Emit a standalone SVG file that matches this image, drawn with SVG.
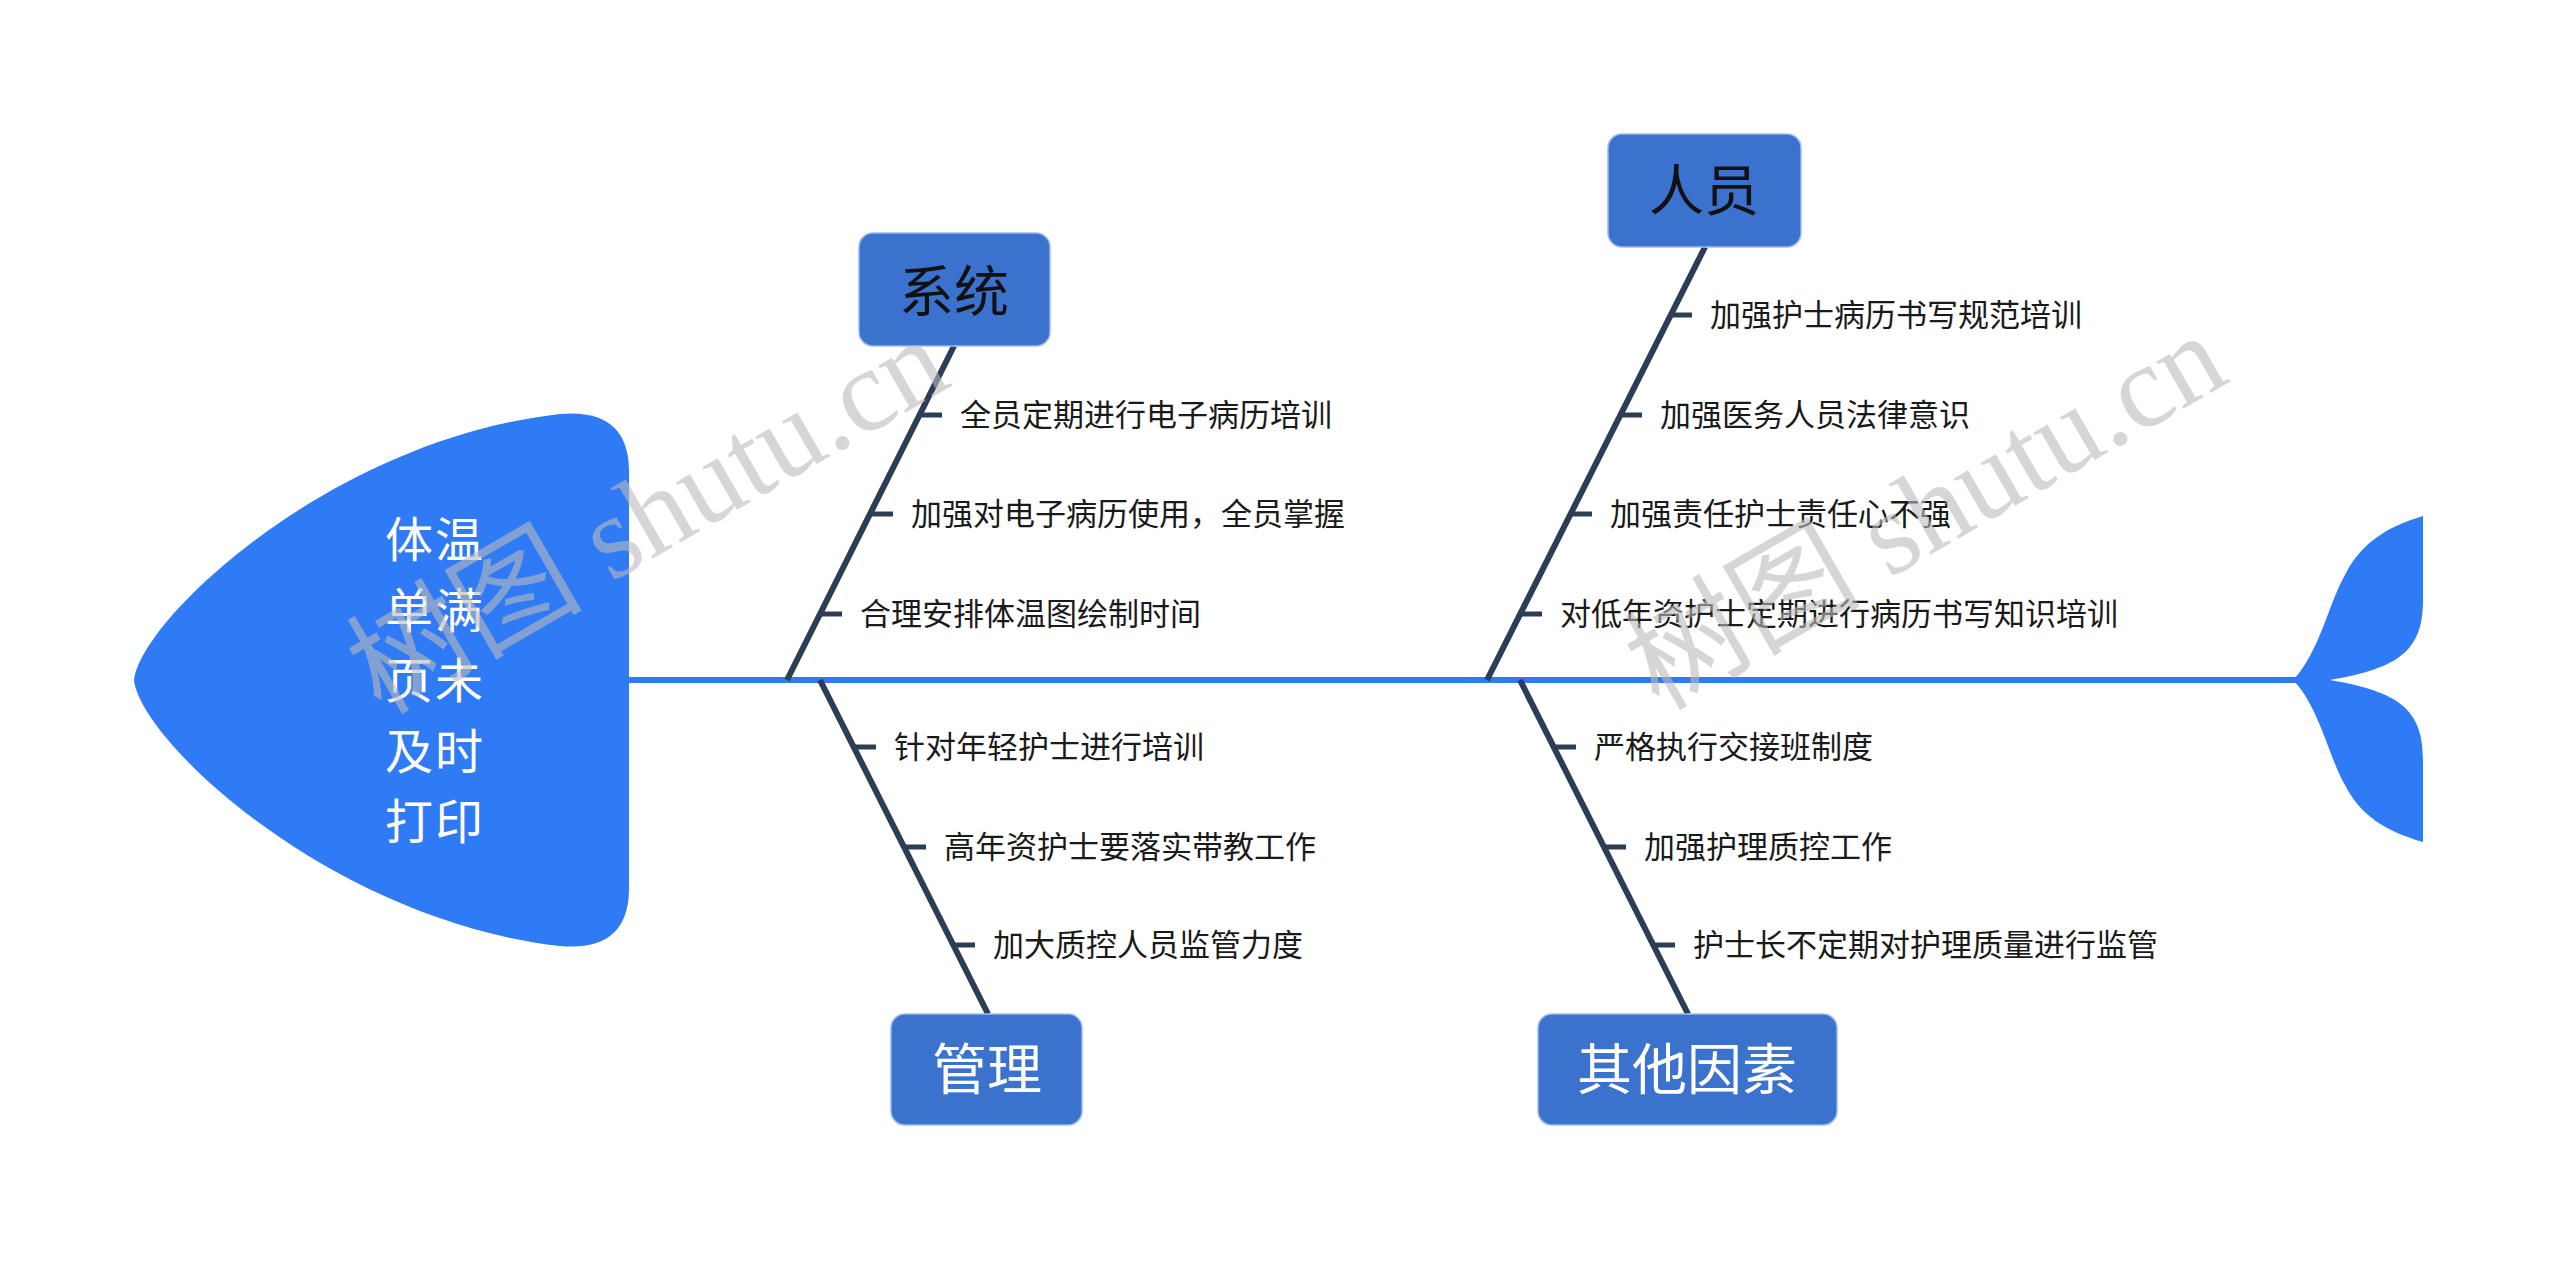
<svg xmlns="http://www.w3.org/2000/svg" width="2560" height="1261" viewBox="0 0 2560 1261">
<style>
.fish{fill:#2F7BF6}
.spine{stroke:#2F7BF4;stroke-width:6;fill:none}
.bone{stroke:#2C3E55;stroke-width:6;fill:none;stroke-linecap:butt}
.tick{stroke:#2C3E55;stroke-width:5;fill:none}
.box{fill:#3A72CE;stroke:#9BBBEE;stroke-width:1.5}
.lbl{font-family:"Noto Sans CJK SC","Noto Sans",sans-serif;font-size:55px;text-anchor:middle}
.dark{fill:#111111}
.light{fill:#FFFFFF}
.item{font-family:"Noto Sans CJK SC","Noto Sans",sans-serif;font-size:31px;fill:#1A1A1A}
.head{font-family:"Noto Sans CJK SC","Noto Sans",sans-serif;font-size:48px;letter-spacing:2px;fill:#FFFFFF;text-anchor:middle}
.wm{font-family:"Liberation Serif","Noto Sans CJK SC",serif;font-size:118px;fill:#BBBBBB;fill-opacity:0.6;text-anchor:middle}
</style>
<rect width="2560" height="1261" fill="#FFFFFF"/>
<g id="connectors">
<line class="spine" x1="625" y1="680" x2="2300" y2="680"/>
<line class="bone" x1="954" y1="346" x2="787" y2="680"/>
<line class="bone" x1="820" y1="680" x2="988" y2="1014"/>
<line class="bone" x1="1705" y1="247" x2="1487" y2="680"/>
<line class="bone" x1="1520" y1="680" x2="1688" y2="1014"/>
<line class="tick" x1="919" y1="415" x2="942" y2="415"/>
<line class="tick" x1="869" y1="514" x2="893" y2="514"/>
<line class="tick" x1="819" y1="614" x2="842" y2="614"/>
<line class="tick" x1="1670" y1="315" x2="1692" y2="315"/>
<line class="tick" x1="1620" y1="415" x2="1642" y2="415"/>
<line class="tick" x1="1570" y1="514" x2="1592" y2="514"/>
<line class="tick" x1="1519" y1="614" x2="1542" y2="614"/>
<line class="tick" x1="854" y1="747" x2="876" y2="747"/>
<line class="tick" x1="904" y1="847" x2="926" y2="847"/>
<line class="tick" x1="953" y1="945" x2="975" y2="945"/>
<line class="tick" x1="1554" y1="747" x2="1576" y2="747"/>
<line class="tick" x1="1604" y1="847" x2="1626" y2="847"/>
<line class="tick" x1="1653" y1="945" x2="1675" y2="945"/>
</g>
<g id="head">
<path class="fish" d="M134,680 C140,620 330,440 560,414 Q628,408 629,470 L629,890 Q628,952 560,946 C330,920 140,740 134,680 Z"/>
<text class="head"><tspan x="435" y="557">体温</tspan><tspan x="435" y="628">单满</tspan><tspan x="435" y="698">页未</tspan><tspan x="435" y="769">及时</tspan><tspan x="435" y="839">打印</tspan></text>
</g>
<g id="tail">
<path class="fish" d="M2295,678 C2320,650 2330,600 2345,575 C2360,545 2385,527 2423,516 L2423,600 C2423,650 2400,668 2330,680 C2400,692 2423,710 2423,760 L2423,842 C2385,831 2360,815 2345,785 C2330,760 2320,710 2295,682 Z"/>
</g>
<g id="node-xitong">
<rect class="box" x="859" y="233" width="191" height="113" rx="14"/>
<text class="lbl dark" x="954" y="311">系统</text>
</g>
<g id="node-renyuan">
<rect class="box" x="1608" y="134" width="193" height="113" rx="14"/>
<text class="lbl dark" x="1704" y="210">人员</text>
</g>
<g id="node-guanli">
<rect class="box" x="891" y="1014" width="191" height="111" rx="14"/>
<text class="lbl light" x="987" y="1089">管理</text>
</g>
<g id="node-qita">
<rect class="box" x="1538" y="1014" width="299" height="111" rx="14"/>
<text class="lbl light" x="1687" y="1089">其他因素</text>
</g>
<g id="items-xitong">
<text class="item" x="960" y="426">全员定期进行电子病历培训</text>
<text class="item" x="911" y="525">加强对电子病历使用，全员掌握</text>
<text class="item" x="860" y="625">合理安排体温图绘制时间</text>
</g>
<g id="items-renyuan">
<text class="item" x="1710" y="326">加强护士病历书写规范培训</text>
<text class="item" x="1660" y="426">加强医务人员法律意识</text>
<text class="item" x="1610" y="525">加强责任护士责任心不强</text>
<text class="item" x="1560" y="625">对低年资护士定期进行病历书写知识培训</text>
</g>
<g id="items-guanli">
<text class="item" x="894" y="758">针对年轻护士进行培训</text>
<text class="item" x="944" y="858">高年资护士要落实带教工作</text>
<text class="item" x="993" y="956">加大质控人员监管力度</text>
</g>
<g id="items-qita">
<text class="item" x="1594" y="758">严格执行交接班制度</text>
<text class="item" x="1644" y="858">加强护理质控工作</text>
<text class="item" x="1693" y="956">护士长不定期对护理质量进行监管</text>
</g>
<g id="watermarks">
<text class="wm" x="649" y="555" transform="rotate(-30 649 518)">树图 shutu.cn</text>
<text class="wm" x="1927" y="551" transform="rotate(-30 1927 514)">树图 shutu.cn</text>
</g>
</svg>
